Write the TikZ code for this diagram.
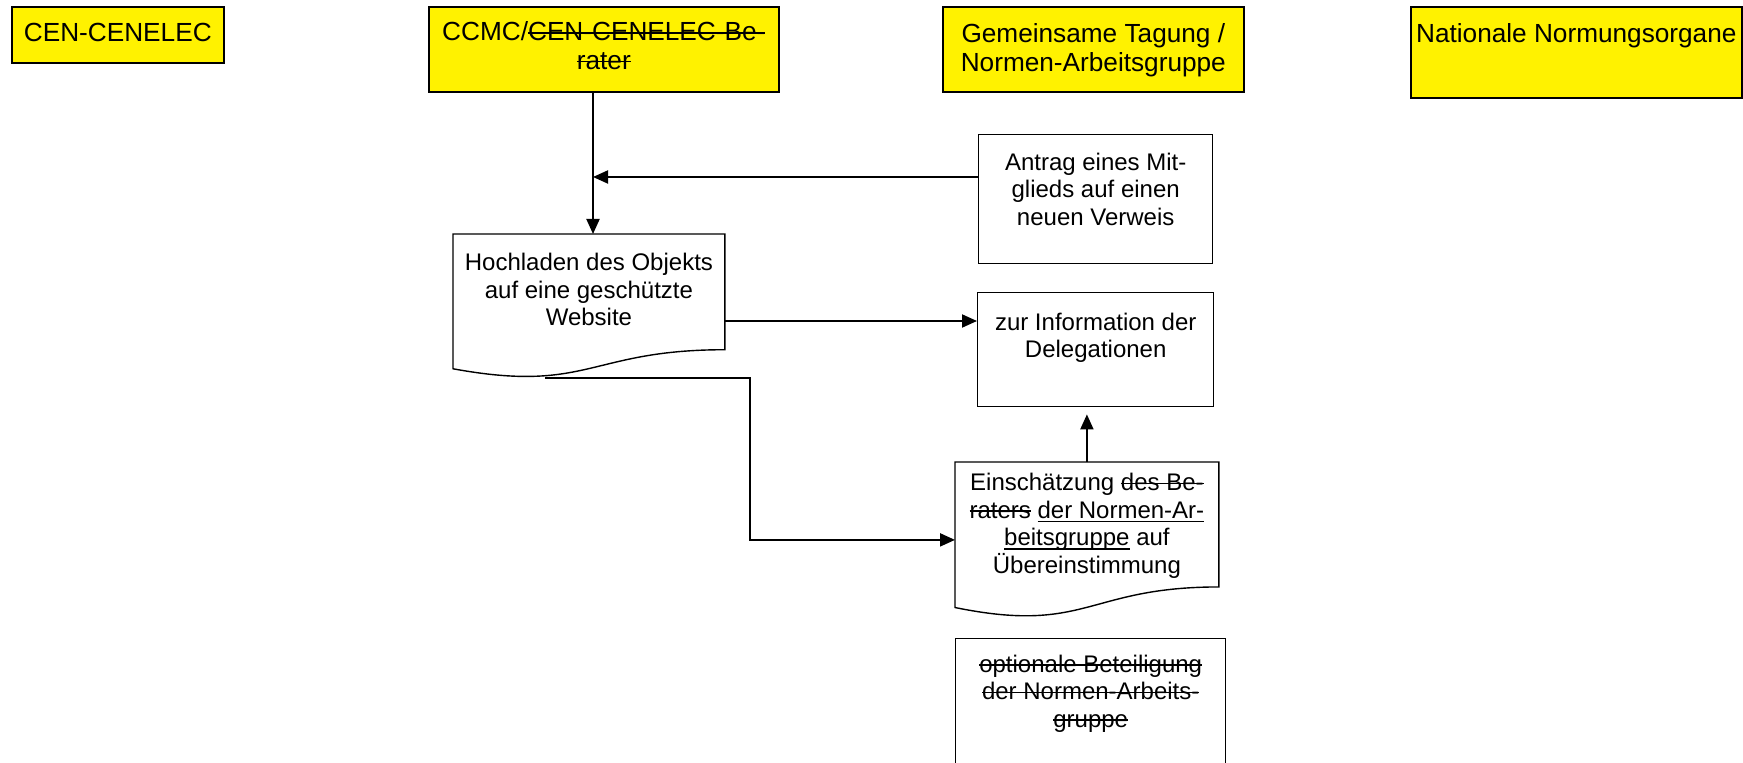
\documentclass[tikz,border=0pt]{standalone}
\usepackage{fontspec}
\setmainfont{Liberation Sans}
\usetikzlibrary{calc,arrows.meta}
\newsavebox\mysbx
\newcommand\strk[1]{\leavevmode\sbox\mysbx{#1}\rlap{\rule[0.27em]{\wd\mysbx}{0.065em}}\usebox\mysbx}
\newcommand\undl[1]{\leavevmode\sbox\mysbx{#1}\rlap{\rule[-0.16em]{\wd\mysbx}{0.065em}}\usebox\mysbx}
\newcommand\bxt[4]{\parbox[t][\dimexpr #2pt/2\relax][t]{\dimexpr #1pt/2\relax}{\centering\vspace*{\dimexpr #3pt/2\relax}#4\par}}
\tikzset{
 hdr/.style={draw=black, line width=0.8pt, fill=yellow, inner sep=0pt, anchor=north west, font=\fontsize{13.1}{14.3}\selectfont},
 plainbox/.style={draw=black, line width=0.7pt, inner sep=0pt, anchor=north west, font=\fontsize{12}{13.8}\selectfont},
 docnode/.style={inner sep=0pt, anchor=north west, font=\fontsize{12}{13.8}\selectfont},
 docshape/.style={draw=black, line width=0.7pt},
 conn/.style={line width=1pt},
 arr/.style={conn, -{Triangle[length=7.5pt,width=6.5pt]}},
}
\begin{document}
\begin{tikzpicture}[x=0.5pt,y=-0.5pt]
\useasboundingbox (0,0) rectangle (1743,763);
\clip (0,0) rectangle (1743,763);
% header boxes
\node[hdr] (cen) at (11,6) {\bxt{212}{56}{16}{CEN-CENELEC}};
\node[hdr] (ccmc) at (428,6) {\bxt{350}{85}{15}{CCMC/\strk{CEN-CENELEC-Be-}\\\strk{rater}}};
\node[hdr] (gem) at (942,6) {\bxt{301}{85}{17}{Gemeinsame Tagung /\\Normen-Arbeitsgruppe}};
\node[hdr] (nat) at (1410,6) {\bxt{331}{91}{17}{Nationale Normungsorgane}};
% process boxes
\node[plainbox] (antrag) at (978,134) {\bxt{234}{129}{18}{Antrag eines Mit-\\glieds auf einen\\neuen Verweis}};
\node[plainbox] (info) at (977,292) {\bxt{236}{114}{20}{zur Information der\\Delegationen}};
\node[plainbox] (opt) at (955,638) {\bxt{270}{150}{16}{\strk{optionale Beteiligung}\\\strk{der Normen-Arbeits-}\\\strk{gruppe}}};
% document shapes
\node[docnode] (hoch) at (453,234) {\bxt{271}{143.5}{19}{Hochladen des Objekts\\auf eine geschützte\\Website}};
\node[docnode] (einsch) at (955,462) {\bxt{263}{155}{11}{Einschätzung \strk{des Be-}\\\strk{raters} \undl{der Normen-Ar-}\\\undl{beitsgruppe} auf\\Übereinstimmung}};
\foreach \n in {hoch,einsch}{
 \draw[docshape] (\n.north west) -- (\n.north east) -- ($(\n.north east)!0.802!(\n.south east)$)
  .. controls ($(\n.north)!0.802!(\n.south)$) and ($(\n.north)!1.107!(\n.south)$) .. ($(\n.north west)!0.934!(\n.south west)$) -- cycle;
}
% connectors
\coordinate (v) at ($(ccmc.south west)+(165,0)$);
\draw[arr] (v) -- (v |- hoch.north);
\coordinate (a1) at ($(antrag.north west)+(0,43)$);
\draw[arr] (a1) -- (a1 -| v);
\coordinate (h1) at ($(hoch.north east)+(0,87)$);
\draw[arr] (h1) -- (h1 -| info.west);
\coordinate (h2) at ($(hoch.south west)!0.34!(hoch.south east)$);
\draw[arr] (h2) -- ++(205,0) |- (einsch.west);
\draw[arr, shorten >=3.5pt] (einsch.north) -- (einsch.north |- info.south);
\end{tikzpicture}
\end{document}
